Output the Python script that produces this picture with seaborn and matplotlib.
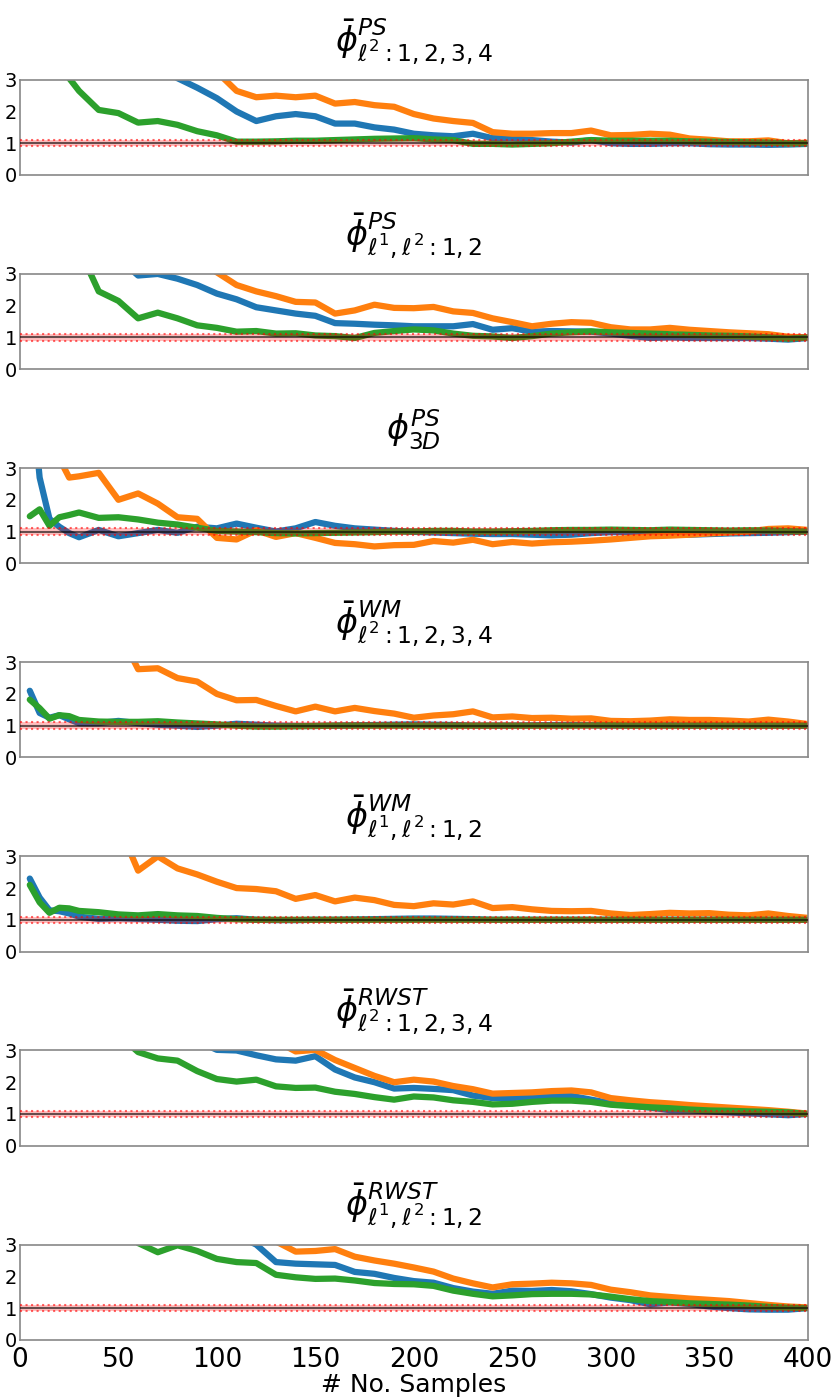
import matplotlib
matplotlib.use("Agg")
import matplotlib.pyplot as plt
import pandas as pd
import seaborn as sns

# number of samples (x grid)
samples = [5, 10, 15, 20, 25, 30, 40, 50, 60, 70, 80, 90, 100, 110, 120, 130,
           140, 150, 160, 170, 180, 190, 200, 210, 220, 230, 240, 250, 260,
           270, 280, 290, 300, 310, 320, 330, 340, 350, 360, 370, 380, 390, 400]

titles = [
    r"$\bar{\phi}^{PS}_{\ell^2:1,2,3,4}$",
    r"$\bar{\phi}^{PS}_{\ell^1,\ell^2:1,2}$",
    r"$\phi^{PS}_{3D}$",
    r"$\bar{\phi}^{WM}_{\ell^2:1,2,3,4}$",
    r"$\bar{\phi}^{WM}_{\ell^1,\ell^2:1,2}$",
    r"$\bar{\phi}^{RWST}_{\ell^2:1,2,3,4}$",
    r"$\bar{\phi}^{RWST}_{\ell^1,\ell^2:1,2}$",
]

p1_blue = [9.0, 8.0, 7.2, 6.5, 6.0, 5.5, 4.8, 4.2, 3.8, 3.4, 3.05, 2.75, 2.42, 2.0, 1.7,
           1.85, 1.92, 1.85, 1.62, 1.62, 1.5, 1.43, 1.3, 1.25, 1.22, 1.3, 1.16, 1.15, 1.1,
           1.05, 1.02, 1.1, 1.0, 0.98, 0.98, 1.0, 1.0, 0.97, 0.96, 0.96, 0.95, 0.96, 0.98]
p1_orange = [10.0, 9.0, 8.5, 8.0, 7.5, 7.0, 6.2, 5.5, 5.0, 4.5, 4.0, 3.6, 3.25, 2.65, 2.45,
             2.5, 2.45, 2.5, 2.25, 2.3, 2.2, 2.15, 1.92, 1.78, 1.7, 1.64, 1.35, 1.3, 1.3,
             1.32, 1.32, 1.4, 1.25, 1.26, 1.3, 1.27, 1.15, 1.11, 1.06, 1.06, 1.09, 1.0, 1.02]
p1_green = [6.0, 5.0, 4.3, 3.6, 3.05, 2.65, 2.05, 1.95, 1.65, 1.7, 1.58, 1.38, 1.25, 1.05,
            1.05, 1.06, 1.08, 1.08, 1.1, 1.12, 1.14, 1.15, 1.16, 1.12, 1.1, 0.98, 0.98, 0.96,
            0.98, 1.0, 1.05, 1.1, 1.08, 1.08, 1.08, 1.08, 1.06, 1.05, 1.04, 1.03, 1.02, 1.0, 1.0]

p2_blue = [10.0, 9.0, 8.0, 7.0, 6.2, 5.5, 4.3, 3.5, 2.95, 3.0, 2.85, 2.65, 2.38, 2.2, 1.95,
           1.85, 1.75, 1.68, 1.45, 1.43, 1.4, 1.38, 1.35, 1.35, 1.35, 1.42, 1.24, 1.29, 1.18,
           1.2, 1.19, 1.18, 1.12, 1.05, 0.98, 1.0, 0.98, 0.98, 0.98, 0.98, 0.96, 0.93, 0.98]
p2_orange = [12.0, 11.0, 10.0, 9.0, 8.5, 8.0, 7.0, 6.0, 5.0, 4.3, 3.8, 3.4, 3.05, 2.65, 2.45,
             2.3, 2.12, 2.1, 1.75, 1.85, 2.03, 1.93, 1.92, 1.96, 1.82, 1.77, 1.6, 1.48, 1.35,
             1.43, 1.48, 1.46, 1.32, 1.25, 1.25, 1.3, 1.24, 1.2, 1.16, 1.13, 1.1, 1.02, 1.0]
p2_green = [8.0, 7.0, 6.2, 5.5, 4.6, 3.8, 2.45, 2.15, 1.6, 1.78, 1.6, 1.38, 1.3, 1.18, 1.2,
            1.12, 1.13, 1.06, 1.04, 0.98, 1.14, 1.2, 1.25, 1.22, 1.12, 1.05, 1.03, 0.98, 1.04,
            1.12, 1.16, 1.19, 1.16, 1.14, 1.12, 1.1, 1.08, 1.06, 1.05, 1.03, 1.0, 0.96, 1.0]

p3_blue = [6.0, 2.7, 1.4, 1.15, 0.95, 0.82, 1.05, 0.85, 0.95, 1.05, 0.96, 1.15, 1.1, 1.25,
           1.12, 1.0, 1.1, 1.3, 1.18, 1.1, 1.06, 1.02, 0.99, 0.97, 0.95, 0.93, 0.92, 0.92,
           0.9, 0.88, 0.9, 0.95, 0.98, 0.98, 0.95, 0.9, 0.9, 0.92, 0.94, 0.95, 0.96, 0.98, 1.0]
p3_orange = [8.0, 6.0, 4.5, 3.3, 2.7, 2.74, 2.85, 2.0, 2.2, 1.88, 1.45, 1.4, 0.8, 0.75, 1.04,
             0.83, 0.95, 0.8, 0.64, 0.6, 0.53, 0.57, 0.58, 0.7, 0.65, 0.74, 0.6, 0.67, 0.62,
             0.66, 0.68, 0.71, 0.75, 0.8, 0.85, 0.87, 0.9, 0.94, 0.97, 1.0, 1.08, 1.1, 1.05]
p3_green = [1.48, 1.7, 1.18, 1.45, 1.52, 1.6, 1.43, 1.45, 1.38, 1.28, 1.22, 1.12, 1.02, 1.0,
            0.98, 0.95, 0.94, 0.95, 0.96, 0.97, 0.98, 1.0, 1.0, 1.02, 1.02, 1.0, 1.0, 1.01,
            1.02, 1.04, 1.05, 1.05, 1.06, 1.05, 1.04, 1.06, 1.05, 1.04, 1.03, 1.04, 1.03, 1.01, 1.0]

p4_blue = [2.1, 1.4, 1.25, 1.33, 1.2, 1.08, 1.08, 1.15, 1.08, 1.03, 1.0, 0.96, 1.0, 1.06, 1.03,
           1.0, 0.99, 0.99, 1.0, 1.01, 1.02, 1.03, 1.04, 1.03, 1.02, 1.0, 1.0, 1.0, 1.01, 1.02,
           1.02, 1.01, 1.0, 1.0, 1.01, 1.01, 1.0, 1.0, 1.0, 1.0, 1.0, 1.0, 1.0]
p4_orange = [12.0, 11.0, 10.0, 9.0, 8.0, 7.0, 5.5, 4.0, 2.78, 2.81, 2.5, 2.39, 2.0, 1.8, 1.81,
             1.62, 1.45, 1.6, 1.45, 1.56, 1.46, 1.38, 1.25, 1.32, 1.36, 1.45, 1.26, 1.29, 1.24,
             1.25, 1.22, 1.23, 1.15, 1.14, 1.16, 1.2, 1.18, 1.18, 1.16, 1.13, 1.19, 1.13, 1.05]
p4_green = [1.82, 1.55, 1.22, 1.33, 1.3, 1.18, 1.13, 1.12, 1.12, 1.14, 1.1, 1.07, 1.04, 1.0,
            0.97, 0.97, 0.98, 0.99, 1.0, 1.0, 1.0, 1.0, 1.0, 1.0, 1.0, 1.0, 1.0, 1.0, 1.0,
            1.0, 1.0, 1.01, 1.01, 1.0, 1.0, 1.0, 1.0, 1.0, 1.0, 1.0, 1.0, 1.0, 1.0]

p5_blue = [2.3, 1.7, 1.3, 1.27, 1.2, 1.1, 1.03, 1.05, 1.03, 1.0, 0.97, 0.96, 1.02, 1.05, 1.0,
           0.99, 0.99, 1.0, 1.0, 1.01, 1.02, 1.03, 1.04, 1.04, 1.03, 1.02, 1.0, 1.0, 1.0,
           1.0, 1.0, 1.0, 1.0, 1.0, 1.0, 1.0, 1.0, 1.0, 1.0, 1.0, 1.0, 1.0, 1.0]
p5_orange = [12.0, 11.0, 10.0, 9.0, 8.0, 7.0, 5.5, 4.0, 2.55, 3.0, 2.62, 2.43, 2.2, 2.0, 1.97,
             1.9, 1.66, 1.78, 1.58, 1.7, 1.62, 1.47, 1.43, 1.52, 1.48, 1.58, 1.37, 1.4, 1.33,
             1.28, 1.27, 1.28, 1.2, 1.15, 1.18, 1.22, 1.2, 1.21, 1.16, 1.14, 1.2, 1.12, 1.06]
p5_green = [2.1, 1.55, 1.22, 1.38, 1.36, 1.28, 1.24, 1.17, 1.14, 1.18, 1.14, 1.12, 1.06, 1.02,
            1.0, 1.0, 1.0, 1.0, 1.0, 1.0, 1.0, 1.0, 1.0, 1.0, 1.0, 1.0, 1.0, 1.0, 1.0,
            1.0, 1.0, 1.0, 1.0, 1.0, 1.0, 1.0, 1.0, 1.0, 1.0, 1.0, 1.0, 1.0, 1.0]

p6_blue = [12.0, 11.0, 10.0, 9.0, 8.5, 8.0, 7.0, 6.0, 5.0, 4.3, 3.7, 3.3, 3.02, 3.0, 2.85,
           2.72, 2.68, 2.82, 2.4, 2.15, 2.0, 1.8, 1.82, 1.79, 1.75, 1.58, 1.5, 1.5, 1.54,
           1.57, 1.57, 1.45, 1.34, 1.26, 1.2, 1.12, 1.11, 1.08, 1.05, 1.02, 0.99, 0.96, 1.0]
p6_orange = [14.0, 13.0, 12.0, 11.0, 10.5, 10.0, 9.0, 8.0, 7.0, 6.0, 5.5, 5.0, 4.5, 4.0, 3.6,
             3.3, 2.97, 3.02, 2.7, 2.45, 2.2, 2.0, 2.08, 2.02, 1.88, 1.78, 1.64, 1.66, 1.68,
             1.72, 1.74, 1.68, 1.5, 1.43, 1.37, 1.33, 1.28, 1.24, 1.2, 1.16, 1.12, 1.07, 1.01]
p6_green = [8.0, 7.0, 6.5, 6.0, 5.5, 5.0, 4.2, 3.5, 2.95, 2.75, 2.68, 2.35, 2.1, 2.02, 2.08,
            1.87, 1.82, 1.83, 1.7, 1.63, 1.53, 1.45, 1.55, 1.52, 1.43, 1.38, 1.3, 1.32, 1.38,
            1.42, 1.42, 1.38, 1.29, 1.25, 1.21, 1.18, 1.14, 1.11, 1.1, 1.08, 1.07, 1.05, 1.0]

p7_blue = [12.0, 11.0, 10.5, 10.0, 9.5, 9.0, 8.0, 7.0, 6.0, 5.2, 4.5, 4.0, 3.6, 3.3, 3.0,
           2.45, 2.4, 2.38, 2.36, 2.14, 2.08, 1.95, 1.85, 1.8, 1.63, 1.52, 1.45, 1.55, 1.54,
           1.57, 1.53, 1.44, 1.33, 1.25, 1.12, 1.18, 1.13, 1.05, 1.0, 0.96, 0.95, 0.95, 1.0]
p7_orange = [14.0, 13.5, 13.0, 12.5, 12.0, 11.5, 10.5, 9.5, 8.5, 7.5, 6.8, 6.0, 5.3, 4.6, 3.9,
             3.1, 2.78, 2.8, 2.86, 2.62, 2.5, 2.4, 2.28, 2.15, 1.93, 1.78, 1.65, 1.75, 1.77,
             1.8, 1.78, 1.73, 1.58, 1.5, 1.4, 1.35, 1.3, 1.26, 1.22, 1.16, 1.1, 1.05, 1.02]
p7_green = [8.0, 7.5, 7.0, 6.5, 6.0, 5.5, 4.5, 3.8, 3.05, 2.76, 2.98, 2.8, 2.55, 2.45, 2.42,
            2.05, 1.97, 1.92, 1.93, 1.87, 1.79, 1.76, 1.75, 1.7, 1.55, 1.45, 1.37, 1.4, 1.44,
            1.45, 1.45, 1.43, 1.36, 1.28, 1.22, 1.19, 1.15, 1.13, 1.11, 1.08, 1.04, 1.01, 1.0]

panels = [
    (p1_blue, p1_orange, p1_green),
    (p2_blue, p2_orange, p2_green),
    (p3_blue, p3_orange, p3_green),
    (p4_blue, p4_orange, p4_green),
    (p5_blue, p5_orange, p5_green),
    (p6_blue, p6_orange, p6_green),
    (p7_blue, p7_orange, p7_green),
]
series_names = ["a", "b", "c"]
colors = ["#1f77b4", "#ff7f0e", "#2ca02c"]

sns.set_style("white")
plt.rcParams["mathtext.fontset"] = "dejavusans"
plt.rcParams["text.color"] = "black"
plt.rcParams["xtick.color"] = "black"
plt.rcParams["ytick.color"] = "black"
plt.rcParams["axes.labelcolor"] = "black"

fig, axes = plt.subplots(7, 1, figsize=(8.31, 14), dpi=100, sharex=True)
fig.subplots_adjust(left=0.024, right=0.972, top=0.943, bottom=0.043, hspace=1.04)

for ax, title, vals in zip(axes, titles, panels):
    rows = []
    for name, ys in zip(series_names, vals):
        for s, v in zip(samples, ys):
            rows.append({"samples": s, "ratio": v, "series": name})
    df = pd.DataFrame(rows)
    sns.lineplot(data=df, x="samples", y="ratio", hue="series",
                 hue_order=series_names, palette=colors, linewidth=4.5,
                 legend=False, ax=ax)

    # reference band around 1
    ax.axhspan(0.9, 1.1, color="red", alpha=0.25, lw=0, zorder=5)
    ax.axhline(0.9, color="red", ls=":", lw=1.5, alpha=0.6, zorder=5)
    ax.axhline(1.1, color="red", ls=":", lw=1.5, alpha=0.6, zorder=5)
    ax.axhline(1.0, color="black", lw=1.5, alpha=0.6, zorder=6)

    ax.set_ylim(0, 3)
    ax.set_xlim(0, 400)
    ax.set_yticks([0, 1, 2, 3])
    ax.set_xticks(range(0, 401, 50))
    ax.set_ylabel("")
    ax.set_xlabel("")
    ax.set_title(title, fontsize=24, pad=20, color="black")
    ax.tick_params(axis="y", labelsize=14, length=0, pad=2)
    ax.tick_params(axis="x", labelsize=19, length=4, color="#888888", pad=1)
    for sp in ax.spines.values():
        sp.set_color("#888888")
        sp.set_linewidth(1.2)

axes[-1].set_xlabel("# No. Samples", fontsize=18, labelpad=0, color="black")

fig.savefig("out.png", dpi=100)
